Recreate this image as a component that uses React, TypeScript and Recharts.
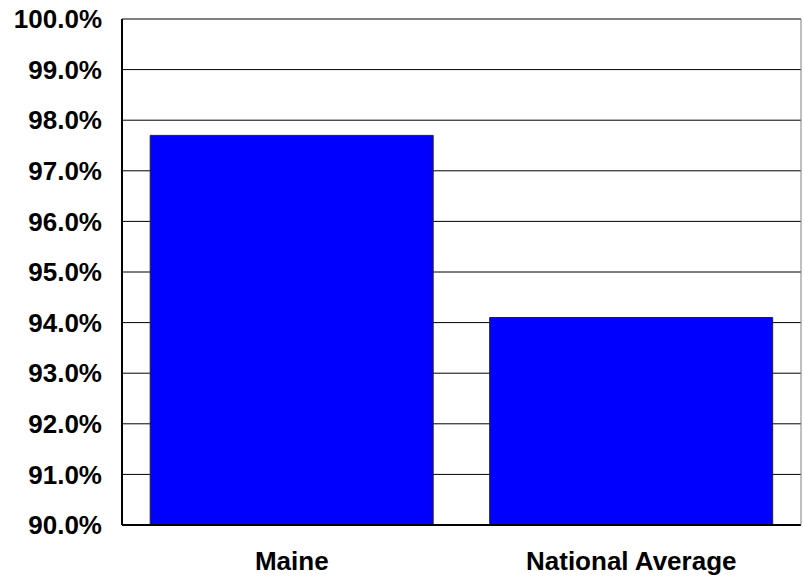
import React from "react";
import {
  BarChart,
  Bar,
  XAxis,
  YAxis,
  CartesianGrid,
} from "recharts";

// ─── Data ─────────────────────────────────────────────────────────────────────
const regions = ["Maine", "National Average"];
const rates = [97.7, 94.1];
const yTicks = [90, 91, 92, 93, 94, 95, 96, 97, 98, 99, 100];

const data = regions.map((name, i) => ({ name, rate: rates[i] }));

const FONT = "'Liberation Sans', Arial, Helvetica, sans-serif";
const tickStyle = { fontSize: 26, fontWeight: 700, fill: "#000", fontFamily: FONT };

export default function App() {
  return (
    <div style={{ position: "fixed", left: 0, top: 0, width: 804, height: 580, background: "#fff" }}>
      <BarChart
        width={804}
        height={580}
        data={data}
        margin={{ top: 19, right: 0, left: 0, bottom: 0 }}
        barCategoryGap="8.3%"
      >
        <CartesianGrid yAxisId="left" stroke="#000" strokeWidth={1} vertical={false} />

        <XAxis
          dataKey="name"
          height={55}
          tick={tickStyle}
          tickLine={false}
          tickSize={6}
          tickMargin={21}
          axisLine={{ stroke: "#000", strokeWidth: 2 }}
        />

        <YAxis
          yAxisId="left"
          width={122}
          domain={[90, 100]}
          ticks={yTicks}
          interval={0}
          tick={tickStyle}
          tickLine={false}
          tickSize={6}
          tickMargin={14}
          axisLine={{ stroke: "#000", strokeWidth: 2 }}
          tickFormatter={(v) => `${Number(v).toFixed(1)}%`}
        />

        {/* thin frame on the right side of the plot */}
        <YAxis
          yAxisId="right"
          orientation="right"
          width={3}
          domain={[90, 100]}
          tick={false}
          tickLine={false}
          axisLine={{ stroke: "#808080", strokeWidth: 1 }}
        />

        <Bar
          yAxisId="left"
          dataKey="rate"
          fill="#0000ff"
          stroke="#222"
          strokeWidth={1}
          isAnimationActive={false}
        />
      </BarChart>
    </div>
  );
}
